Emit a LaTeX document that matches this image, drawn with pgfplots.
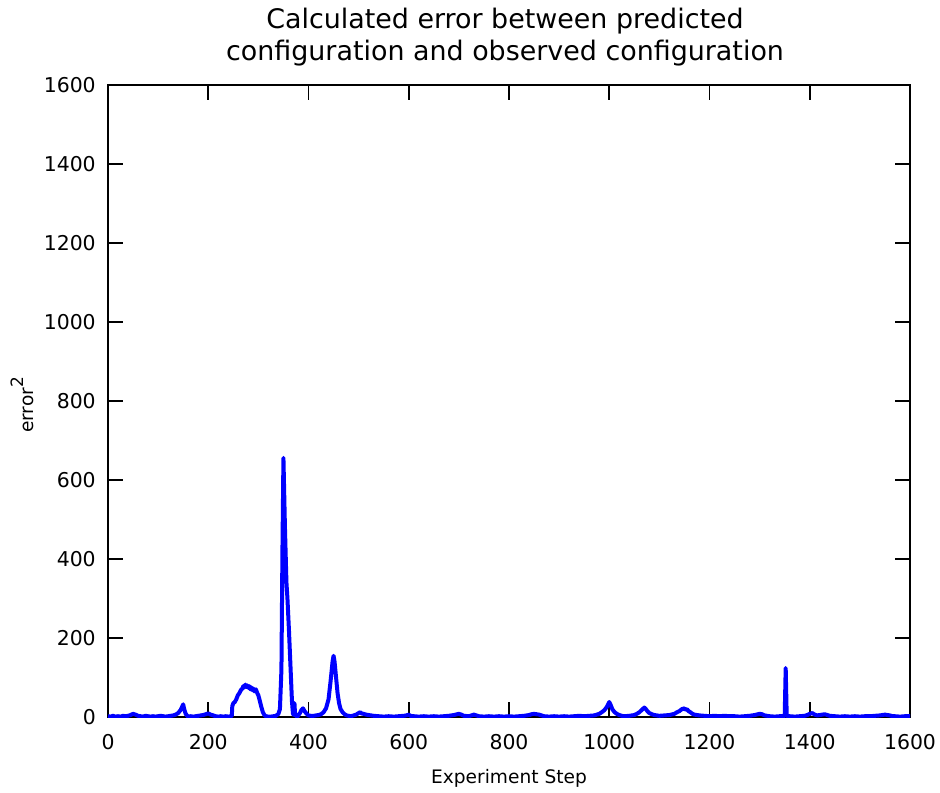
\documentclass[border=0pt]{standalone}
\usepackage{fontspec}
\setmainfont{DejaVu Sans}
\usepackage{pgfplots}
\pgfplotsset{compat=1.18}
\begin{document}
\begin{tikzpicture}
\begin{axis}[
  scale only axis,
  width=401pt, height=316pt,
  xmin=0, xmax=1600, ymin=0, ymax=1600,
  xtick={0,200,...,1600}, ytick={0,200,...,1600},
  minor tick num=0,
  tick align=inside,
  major tick length=7.5pt,
  every tick/.style={line width=0.9pt, black},
  axis line style={line width=0.9pt},
  /pgf/number format/assume math mode=true,
  /pgf/number format/1000 sep={},
  tick label style={font=\fontsize{10.2}{12}\selectfont},
  xticklabel style={yshift=-5.3pt},
  yticklabel style={xshift=-2.6pt},
  title={Calculated error between predicted\\configuration and observed configuration},
  title style={font=\fontsize{13.45}{16.2}\selectfont, align=center, at={(0.5,1)}, anchor=center, yshift=18pt, xshift=-2pt},
  xlabel={Experiment Step},
  ylabel={error\raisebox{0.55em}{\fontsize{8.5}{9}\selectfont 2}},
  xlabel style={font=\fontsize{9.3}{11}\selectfont, at={(0.5,0)}, anchor=center, yshift=-30.5pt},
  ylabel style={font=\fontsize{9.3}{11}\selectfont, at={(0,0.5)}, anchor=center, yshift=43pt, xshift=-2pt},
]
\addplot[blue, line width=2pt, line join=round] table {
x y
0 2
5 1
10 3
15 1
20 2
25 1
30 3
35 2
40 3
45 5
50 8
55 6
60 3
65 2
70 1
75 3
80 2
85 1
90 2
95 1
100 2
105 3
110 2
115 1
120 2
125 3
130 4
135 6
140 10
145 18
150 32
152 20
155 8
158 3
160 1
165 2
170 1
175 2
180 3
185 4
190 5
195 7
200 9
205 6
210 4
215 2
220 1
225 2
230 1
235 2
240 1
245 2
247 3
248 28
250 35
253 38
256 45
259 55
262 60
265 68
268 72
270 78
272 75
274 82
276 76
278 80
280 74
282 78
284 70
286 75
288 68
290 72
292 65
295 70
298 60
300 55
303 40
306 25
309 12
312 5
315 2
320 1
325 1
330 2
335 3
340 8
343 20
346 120
348 420
350 656
353 480
356 340
358 300
361 220
364 130
367 40
369 8
371 5
372 35
373 10
375 3
378 1
380 5
383 10
386 18
389 22
392 15
395 10
398 6
400 4
405 3
410 3
415 4
420 5
425 7
430 12
435 22
440 45
444 90
448 140
450 155
452 140
455 100
458 60
461 35
464 20
468 12
472 7
476 4
480 3
485 2
490 4
495 6
500 10
503 12
506 9
510 8
515 6
520 5
525 4
530 3
540 2
550 1
560 2
570 1
580 2
590 3
595 4
600 6
603 3
610 2
620 1
630 2
640 1
650 2
660 1
670 2
680 3
690 5
700 8
705 6
710 3
720 2
725 4
730 6
735 4
740 2
750 1
760 2
770 1
780 2
790 1
800 2
810 1
820 2
830 3
840 5
845 7
850 8
855 7
860 6
865 4
870 2
880 1
890 2
900 1
910 2
920 1
930 2
940 3
950 2
960 3
970 4
980 8
985 12
990 17
995 25
1000 38
1003 30
1006 20
1010 13
1015 8
1020 5
1025 3
1030 2
1040 3
1050 5
1055 8
1060 12
1065 18
1070 24
1073 20
1076 15
1080 10
1085 7
1090 5
1095 4
1100 3
1110 4
1120 5
1130 8
1135 12
1140 15
1145 20
1150 22
1152 18
1155 20
1158 15
1162 12
1166 8
1170 6
1175 5
1180 4
1190 3
1200 2
1210 3
1220 2
1230 3
1240 2
1250 2
1260 1
1270 2
1280 3
1290 5
1300 8
1305 7
1310 4
1320 2
1330 1
1340 2
1350 2
1352 124
1354 3
1360 2
1370 1
1380 2
1390 3
1395 5
1400 8
1405 10
1410 6
1415 4
1420 5
1425 6
1430 7
1435 5
1440 3
1450 2
1460 1
1470 2
1480 1
1490 2
1500 1
1510 2
1520 2
1530 3
1540 4
1545 5
1550 6
1555 5
1560 4
1565 2
1570 2
1580 1
1590 2
1600 2
};
\end{axis}
\pgfresetboundingbox
\path ([shift={(-54pt,-37.5pt)}]current axis.south west) rectangle ([shift={(15pt,42.5pt)}]current axis.north east);
\end{tikzpicture}
\end{document}
